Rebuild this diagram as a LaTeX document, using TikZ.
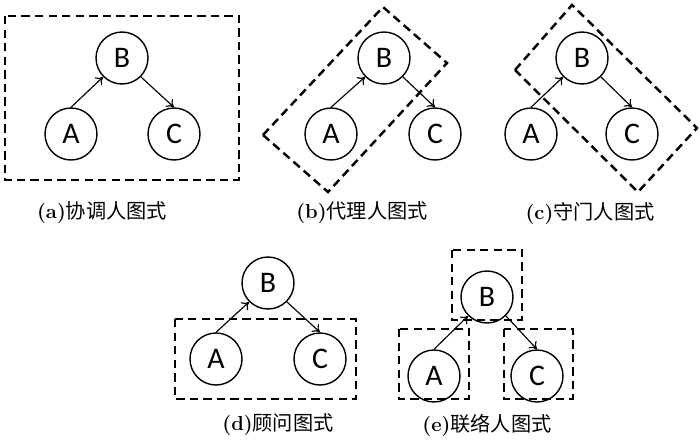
\documentclass[tikz,border=0pt]{standalone}
\usepackage{fontspec}
\setsansfont{Carlito}
\newfontfamily\cjk{Noto Sans CJK SC}
\usepackage{tikz}
\usetikzlibrary{arrows.meta, positioning}
\tikzset{
    agent/.style={circle, draw, line width=0.8pt, minimum size=1.04cm, inner sep=0pt, font=\sffamily\fontsize{17}{17}\selectfont},
    arrow/.style={-{To[length=4pt, width=6pt]}, line width=0.65pt},
    group/.style={draw, line width=1.4pt, dash pattern=on 4.8pt off 2.9pt},
    caption/.style={font=\fontsize{11.5}{12}\selectfont}
}

\begin{document}
\begin{tikzpicture}[x=0.02cm, y=-0.02cm]
    \useasboundingbox (0,0) rectangle (700,440);

    % (a) coordinator
    \node (a_b) [agent] at (122,58) {B};
    \node (a_a) [agent] at (71,134) {A};
    \node (a_c) [agent] at (174,134) {C};
    \draw [arrow] (a_a.north) -- (a_b.south west);
    \draw [arrow] (a_b.south east) -- (a_c.north);
    \draw [group] (5,16) rectangle (239,180);
    \node (cap_a) [caption] at (102,213) {\textbf{(a)}{\cjk 协调人图式}};

    % (b) representative
    \node (b_b) [agent] at (384,58) {B};
    \node (b_a) [agent] at (331,134) {A};
    \node (b_c) [agent] at (435,134) {C};
    \draw [arrow] (b_a.north) -- (b_b.south west);
    \draw [arrow] (b_b.south east) -- (b_c.north);
    \draw [group] (263,135) -- (383,7) -- (447,63) -- (328,192) -- cycle;
    \node (cap_b) [caption] at (362,213) {\textbf{(b)}{\cjk 代理人图式}};

    % (c) gatekeeper
    \node (c_b) [agent] at (582,58) {B};
    \node (c_a) [agent] at (531,134) {A};
    \node (c_c) [agent] at (632,134) {C};
    \draw [arrow] (c_a.north) -- (c_b.south west);
    \draw [arrow] (c_b.south east) -- (c_c.north);
    \draw [group] (515,70) -- (572,5) -- (697,128) -- (638,192) -- cycle;
    \node (cap_c) [caption] at (590,213) {\textbf{(c)}{\cjk 守门人图式}};

    % (d) consultant
    \node (d_b) [agent] at (268,283) {B};
    \node (d_a) [agent] at (216,359) {A};
    \node (d_c) [agent] at (320,359) {C};
    \draw [arrow] (d_a.north) -- (d_b.south west);
    \draw [arrow] (d_b.south east) -- (d_c.north);
    \draw [group] (175,319) rectangle (356,399);
    \node (cap_d) [caption] at (278,425) {\textbf{(d)}{\cjk 顾问图式}};

    % (e) liaison
    \node (e_b) [agent] at (487,297) {B};
    \node (e_a) [agent] at (434,376) {A};
    \node (e_c) [agent] at (537,376) {C};
    \draw [arrow] (e_a.north) -- (e_b.south west);
    \draw [arrow] (e_b.south east) -- (e_c.north);
    \draw [group] (452,250) rectangle (522,320);
    \draw [group] (399,329) rectangle (469,399);
    \draw [group] (504,329) rectangle (573,399);
    \node (cap_e) [caption] at (487,425) {\textbf{(e)}{\cjk 联络人图式}};

\end{tikzpicture}
\end{document}
